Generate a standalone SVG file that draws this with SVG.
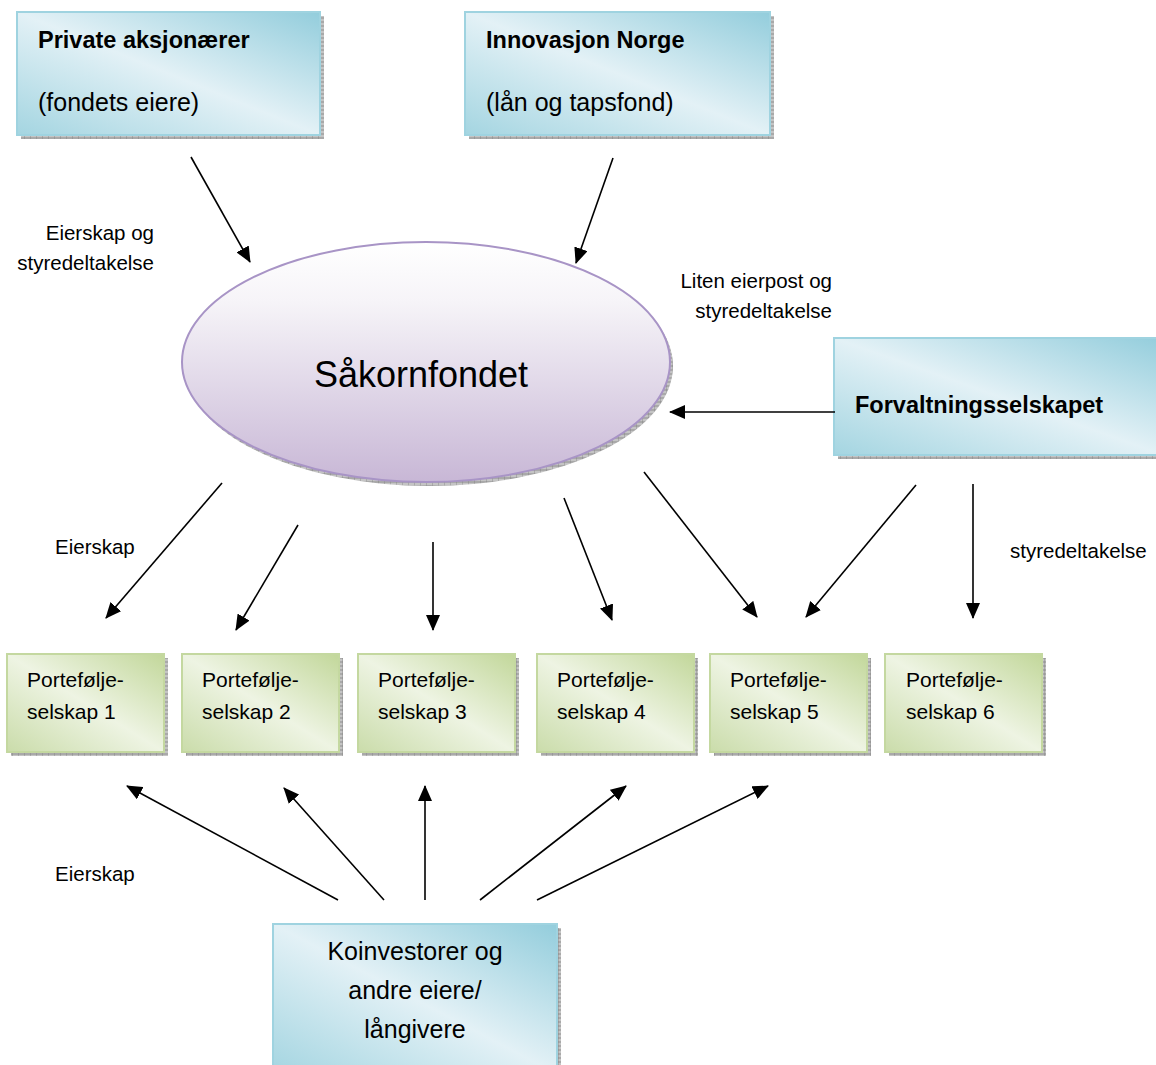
<svg xmlns="http://www.w3.org/2000/svg" width="1156" height="1065" viewBox="0 0 1156 1065">
<defs>
<linearGradient id="gBlue" x1="1" y1="0" x2="0" y2="1">
<stop offset="0" stop-color="#93cddc"/>
<stop offset="0.5" stop-color="#e3f1f6"/>
<stop offset="1" stop-color="#a4d5e1"/>
</linearGradient>
<linearGradient id="gGreen" x1="1" y1="0" x2="0" y2="1">
<stop offset="0" stop-color="#c2d79a"/>
<stop offset="0.5" stop-color="#eef4e3"/>
<stop offset="1" stop-color="#cadcaa"/>
</linearGradient>
<linearGradient id="gPurple" x1="0" y1="0" x2="0" y2="1">
<stop offset="0" stop-color="#ffffff"/>
<stop offset="0.25" stop-color="#f6f4f8"/>
<stop offset="1" stop-color="#c8b7d6"/>
</linearGradient>
<pattern id="hatch" width="6" height="4" patternUnits="userSpaceOnUse">
<rect width="6" height="4" fill="#c4c4c4"/>
<path d="M0,2 H6 M0,0 V4" stroke="#808080" stroke-width="0.8"/>
</pattern>
<marker id="ah" markerUnits="userSpaceOnUse" markerWidth="16" markerHeight="14" refX="15" refY="7" orient="auto">
<path d="M0,0 L16,7 L0,14 z" fill="#000"/>
</marker>
</defs>
<style>
.blue{fill:url(#gBlue);stroke:#9fd3e0;stroke-width:2}
.green{fill:url(#gGreen);stroke:#c4d8a0;stroke-width:2}
.sh{fill:url(#hatch)}
.t{font-family:"Liberation Sans",Arial,sans-serif;fill:#000}
.b{font-weight:bold;font-size:23.5px}
.r{font-size:25px}
.g{font-size:21px}
.lbl{font-size:20.5px}
.c line{stroke:#000;stroke-width:1.6;marker-end:url(#ah)}
</style>
<rect width="1156" height="1065" fill="#fff"/>

<g id="private-aksjonaerer">
<rect class="sh" x="21" y="16" width="303" height="123"/>
<rect class="blue" x="17" y="12" width="303" height="123"/>
<text class="t b" x="38" y="48">Private aksjonærer</text>
<text class="t r" x="38" y="111">(fondets eiere)</text>
</g>

<g id="innovasjon-norge">
<rect class="sh" x="469" y="16" width="305" height="123"/>
<rect class="blue" x="465" y="12" width="305" height="123"/>
<text class="t b" x="486" y="48">Innovasjon Norge</text>
<text class="t r" x="486" y="111">(lån og tapsfond)</text>
</g>

<g id="sakornfondet">
<ellipse cx="429" cy="366" rx="244" ry="120" fill="url(#hatch)"/>
<ellipse cx="426" cy="362" rx="244" ry="120" fill="url(#gPurple)" stroke="#a894c6" stroke-width="2"/>
<text class="t" x="421" y="387" font-size="36" text-anchor="middle">Såkornfondet</text>
</g>

<g id="forvaltningsselskapet">
<rect class="sh" x="838" y="342" width="330" height="117"/>
<rect class="blue" x="834" y="338" width="330" height="117"/>
<text class="t b" x="855" y="413">Forvaltningsselskapet</text>
</g>

<g id="pf1">
<rect class="sh" x="11" y="658" width="157" height="98"/>
<rect class="green" x="7" y="654" width="157" height="98"/>
<text class="t g" x="27" y="687">Portefølje-</text>
<text class="t g" x="27" y="719">selskap 1</text>
</g>
<g id="pf2">
<rect class="sh" x="186" y="658" width="157" height="98"/>
<rect class="green" x="182" y="654" width="157" height="98"/>
<text class="t g" x="202" y="687">Portefølje-</text>
<text class="t g" x="202" y="719">selskap 2</text>
</g>
<g id="pf3">
<rect class="sh" x="362" y="658" width="157" height="98"/>
<rect class="green" x="358" y="654" width="157" height="98"/>
<text class="t g" x="378" y="687">Portefølje-</text>
<text class="t g" x="378" y="719">selskap 3</text>
</g>
<g id="pf4">
<rect class="sh" x="541" y="658" width="157" height="98"/>
<rect class="green" x="537" y="654" width="157" height="98"/>
<text class="t g" x="557" y="687">Portefølje-</text>
<text class="t g" x="557" y="719">selskap 4</text>
</g>
<g id="pf5">
<rect class="sh" x="714" y="658" width="157" height="98"/>
<rect class="green" x="710" y="654" width="157" height="98"/>
<text class="t g" x="730" y="687">Portefølje-</text>
<text class="t g" x="730" y="719">selskap 5</text>
</g>
<g id="pf6">
<rect class="sh" x="889" y="658" width="157" height="98"/>
<rect class="green" x="885" y="654" width="157" height="98"/>
<text class="t g" x="906" y="687">Portefølje-</text>
<text class="t g" x="906" y="719">selskap 6</text>
</g>

<g id="koinvestorer">
<rect class="sh" x="277" y="928" width="284" height="150"/>
<rect class="blue" x="273" y="924" width="284" height="150"/>
<text class="t r" x="415" y="960" text-anchor="middle">Koinvestorer og</text>
<text class="t r" x="415" y="999" text-anchor="middle">andre eiere/</text>
<text class="t r" x="415" y="1038" text-anchor="middle">långivere</text>
</g>

<g id="labels">
<text class="t lbl" x="154" y="240" text-anchor="end">Eierskap og</text>
<text class="t lbl" x="154" y="270" text-anchor="end">styredeltakelse</text>
<text class="t lbl" x="832" y="288" text-anchor="end">Liten eierpost og</text>
<text class="t lbl" x="832" y="318" text-anchor="end">styredeltakelse</text>
<text class="t lbl" x="55" y="554">Eierskap</text>
<text class="t lbl" x="1010" y="558">styredeltakelse</text>
<text class="t lbl" x="55" y="881">Eierskap</text>
</g>

<g id="connectors" class="c">
<line x1="191" y1="157" x2="250" y2="262"/>
<line x1="613" y1="158" x2="576" y2="263"/>
<line x1="835" y1="412" x2="670" y2="412"/>
<line x1="222" y1="483" x2="106" y2="618"/>
<line x1="298" y1="525" x2="236" y2="630"/>
<line x1="433" y1="542" x2="433" y2="630"/>
<line x1="564" y1="498" x2="612" y2="620"/>
<line x1="644" y1="472" x2="757" y2="617"/>
<line x1="916" y1="485" x2="806" y2="617"/>
<line x1="973" y1="484" x2="973" y2="618"/>
<line x1="338" y1="900" x2="127" y2="786"/>
<line x1="384" y1="900" x2="284" y2="788"/>
<line x1="425" y1="900" x2="425" y2="786"/>
<line x1="480" y1="900" x2="626" y2="786"/>
<line x1="537" y1="900" x2="768" y2="786"/>
</g>
</svg>
